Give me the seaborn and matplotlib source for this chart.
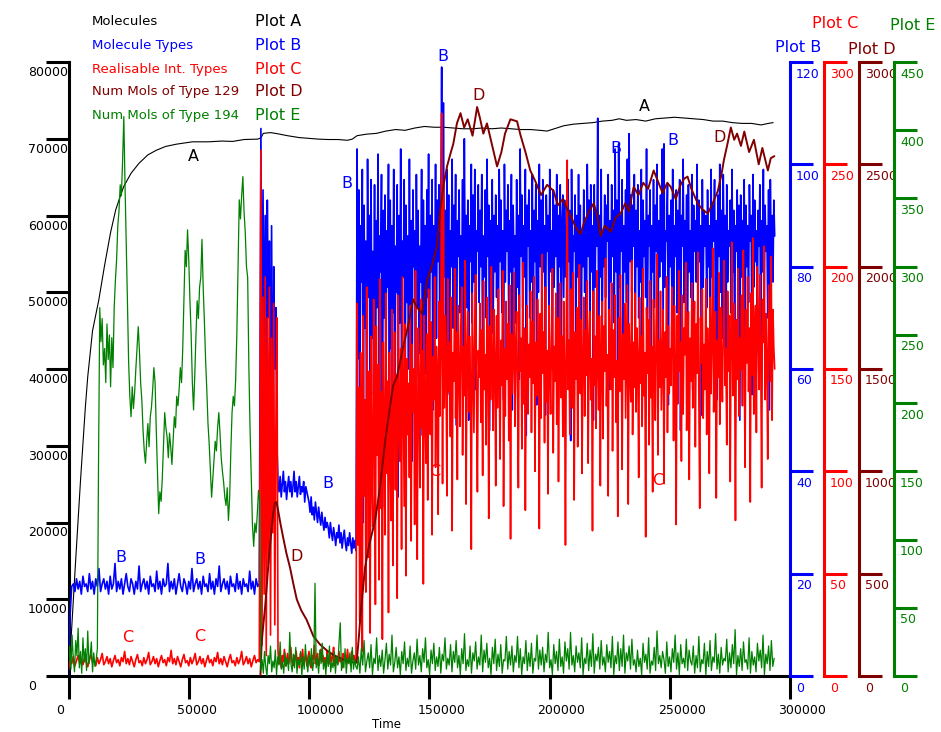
import numpy as np
import pandas as pd
import matplotlib
matplotlib.use('Agg')
import matplotlib.pyplot as plt
import seaborn as sns

# ---------------- data ----------------
# phase boundaries on the time axis: each value list below is sampled evenly inside its phase
seg_edges = [0, 80000, 120000, 294000]

# Plot A: Molecules (left axis)
a_time = [0, 1000, 3000, 5000, 7000, 8000, 10000, 12600, 15000, 17500,
          19600, 21500, 23000, 26000, 29300, 33000, 36500, 40400, 45000, 51500,
          58000, 64000, 68200, 73000, 78600, 80000, 81000, 84000, 87000, 91000,
          96000, 100000, 104000, 108000, 112000, 116000, 118000, 120000, 124000, 128000,
          132000, 136000, 140000, 144000, 148000, 152000, 156000, 160000, 164000, 168000,
          172000, 176000, 180000, 184000, 188000, 192000, 196000, 199000, 202000, 206000,
          210000, 214000, 218000, 222000, 226000, 229000, 232000, 236000, 240000, 244000,
          248000, 252000, 256000, 260000, 264000, 268000, 272000, 276000, 280000, 284000,
          288000, 291000, 293000]
a_vals = [1000, 4500, 15200, 25500, 35000, 39000, 45000, 49000, 53500, 57800,
          60700, 62500, 63800, 65500, 66800, 67900, 68500, 69000, 69300, 69600,
          69600, 69700, 69650, 69900, 69950, 70100, 70700, 70800, 70650, 70400,
          70150, 70050, 69950, 69900, 69900, 69800, 69950, 70400, 70600, 70700,
          71000, 71200, 71100, 71400, 71600, 71500, 71500, 71400, 71300, 71300,
          71400, 71300, 71400, 71300, 71200, 71200, 71100, 71000, 71300, 71700,
          71900, 72000, 72100, 72300, 72400, 72600, 72400, 72500, 72300, 72600,
          72700, 72800, 72700, 72600, 72500, 72300, 72300, 72100, 72000, 72000,
          71800, 72000, 72100]

# Plot B: Molecule Types
b_seg1 = [0, 12, 17.5, 18, 16.5, 19, 17, 18.5, 16, 19.5,
          17.5, 18, 16.5, 20, 17, 18.5, 16, 19, 17.5, 21,
          16.5, 18, 19, 17, 18.5, 16, 19.5, 17, 18, 22,
          16.5, 18.5, 17, 19, 16, 18, 20, 17.5, 16.5, 19,
          18, 16, 18.5, 17, 21.5, 16.5, 18, 19, 17, 18.5,
          16, 19.5, 17.5, 18, 16.5, 20.5, 17, 18.5, 16, 19,
          17.5, 18, 22, 16.5, 18.5, 17, 19, 16, 18, 20,
          17.5, 16.5, 19, 18, 16, 18.5, 17, 21, 16.5, 18,
          19, 17, 18.5, 16, 19.5, 17.5, 18, 16.5, 20, 17,
          18.5, 16, 19, 17.5, 21.5, 16.5, 18, 19, 17, 18.5,
          16, 19.5, 17.5, 18, 16.5, 20, 17, 18.5, 16, 19,
          17.5, 18, 16.5, 20.5, 17, 18.5, 16, 19, 17.5, 18]
b_seg2 = [107, 62, 95, 58, 90, 45, 93, 70, 85, 52, 88, 40, 80, 60, 72, 45,
          38, 36, 39, 35, 37.5, 40, 36, 38, 34.5, 37,
          39, 36, 38, 35, 37, 40, 36, 38, 35, 37,
          39, 35.5, 37, 36, 38, 34, 37, 36, 35,
          34, 32, 35, 31.5, 33, 30.5, 34, 32, 30, 33, 31, 29.5, 32, 30, 28.5, 31, 29, 30,
          29, 27, 30, 28, 26.5, 29, 27.5, 25.5, 28, 27, 29.5, 26, 28, 25,
          27, 28.5, 26, 24.5, 27, 25.5, 28, 26, 24, 27, 25, 26.5, 24.5]
b_seg3 = [103, 62, 95, 41, 88, 77, 99, 30, 92, 68, 85, 49, 101, 74, 90, 36, 97, 66, 83, 55,
          96, 44, 89, 72, 102, 58, 86, 79, 98, 33, 91, 70, 94, 52, 87, 76, 100, 39, 93, 64,
          88, 71, 99, 48, 84, 75, 96, 35, 90, 69, 103, 57, 85, 78, 97, 45, 92, 73, 86, 60,
          101, 67, 89, 42, 95, 80, 87, 54, 98, 72, 91, 63, 84, 77, 99, 47, 93, 70, 88, 59,
          95, 74, 102, 61, 90, 79, 97, 52, 88, 76, 100, 66, 93, 81, 96, 58, 91, 119, 70, 112,
          78, 91, 63, 99, 75, 94, 55, 87, 80, 101, 68, 92, 77, 98, 49, 89, 82, 95, 71, 86,
          76, 97, 59, 105, 79, 90, 72, 93, 50, 88, 81, 100, 69, 94, 77, 99, 56, 87, 83, 96,
          73, 91, 80, 98, 57, 86, 78, 95, 70, 101, 82, 92, 48, 89, 75, 97, 67, 90, 79, 94,
          74, 88, 62, 99, 81, 93, 71, 87, 54, 100, 77, 91, 83, 96, 66, 89, 79, 98, 52, 92,
          80, 86, 69, 97, 76, 90, 58, 103, 82, 94, 72, 88, 78, 99, 47, 92, 84, 95, 70, 87,
          77, 98, 64, 91, 81, 96, 53, 89, 75, 100, 80, 93, 68, 97, 79, 88, 51, 94, 83, 90,
          72, 99, 79, 87, 60, 95, 76, 92, 82, 98, 67, 90, 80, 96, 55, 89, 94, 74, 93, 78,
          88, 70, 97, 81, 91, 46, 99, 77, 86, 83, 94, 65, 90, 78, 98, 73, 92, 57, 87, 80,
          95, 75, 89, 63, 100, 82, 93, 71, 96, 79, 88, 50, 96, 76, 91, 84, 109, 68, 90, 78,
          99, 61, 87, 80, 94, 74, 92, 85, 98, 56, 89, 77, 96, 82, 91, 69, 103, 79, 93, 52,
          104, 76, 90, 83, 97, 66, 88, 79, 95, 73, 101, 58, 106, 81, 94, 75, 92, 84, 98, 63,
          91, 80, 96, 70, 87, 77, 99, 49, 93, 82, 89, 74, 103, 67, 90, 84, 95, 55, 88, 79,
          97, 72, 92, 83, 100, 59, 89, 78, 94, 81, 103, 68, 104, 76, 87, 85, 96, 53, 90, 80,
          93, 75, 99, 64, 88, 82, 95, 71, 91, 78, 97, 48, 90, 84, 101, 73, 89, 80, 94, 62,
          96, 79, 87, 74, 98, 56, 92, 83, 89, 77, 100, 69, 93, 81, 88, 51, 97, 76, 91, 84,
          90, 72, 95, 80, 88, 61, 99, 78, 92, 85, 97, 70, 89, 54, 94, 82, 100, 75, 91, 66,
          98, 81, 90, 57, 96, 77, 87, 84, 93, 71, 99, 79, 91, 63, 88, 83, 95, 74, 92, 50,
          94, 78, 89, 82, 97, 65, 92, 80, 88, 73, 96, 85, 90, 55, 98, 76, 93, 81, 87, 68,
          91, 84, 96, 60, 89, 79, 99, 74, 92, 83, 88, 70, 95, 52, 97, 80, 90, 77, 93, 86]

# Plot C: Realisable Int. Types
c_seg1 = [3, 8, 6, 9.5, 5, 7.5, 10, 6, 8.5, 5.5,
          9, 7, 4.5, 8, 10.5, 6.5, 7.5, 5, 9, 6,
          8, 11, 5.5, 7, 9.5, 6, 8.5, 4.5, 7.5, 10,
          6.5, 8, 5, 9, 7, 12, 6, 8.5, 5.5, 9.5,
          7, 4.5, 8, 10.5, 6.5, 7.5, 5, 9, 6, 8,
          11.5, 5.5, 7, 9.5, 6, 8.5, 4.5, 7.5, 10, 6.5,
          8, 5, 9, 7, 12.5, 6, 8.5, 5.5, 9.5, 7,
          4.5, 8, 10.5, 6.5, 7.5, 5, 9, 6, 8, 11,
          5.5, 7, 9.5, 6, 8.5, 4.5, 7.5, 10, 6.5, 8,
          5, 9, 7, 11.5, 6, 8.5, 5.5, 9.5, 7, 4.5,
          8, 10.5, 6.5, 7.5, 5, 9, 6, 8, 12, 5.5,
          7, 9.5, 6, 8.5, 4.5, 7.5, 10, 6.5, 8, 7]
c_seg2 = [257, 15, 185, 40, 195, 10, 175, 55, 190, 20, 165, 70, 182, 25, 120, 175,
          12, 6, 9, 4, 10, 7, 13, 5, 8, 11, 6, 9, 14, 7, 5, 10, 8, 12, 6, 9,
          4, 11, 7, 13, 6, 8, 10, 5, 9, 12, 7, 4, 10, 8, 15, 6, 9, 11, 5, 8,
          13, 7, 10, 6, 9, 4, 12, 8, 6, 11, 7, 9, 14, 5, 10, 8, 6, 12, 7, 9,
          4, 11, 8, 10, 6, 13, 7, 9, 5, 12, 8, 10, 6, 9]
c_seg3 = [182, 64, 141, 27, 158, 103, 12, 176, 88, 135, 41, 190, 117, 58, 149, 21, 166, 96, 73, 184,
          126, 35, 171, 108, 152, 47, 194, 82, 139, 18, 163, 121, 69, 187, 99, 144, 31, 158, 112, 76,
          179, 54, 133, 168, 91, 147, 38, 186, 124, 105, 160, 62, 195, 137, 83, 172, 49, 155, 118, 143,
          97, 181, 66, 162, 129, 150, 74, 198, 114, 57, 170, 138, 92, 184, 121, 159, 45, 176, 131, 104,
          167, 86, 189, 142, 118, 173, 69, 156, 135, 195, 102, 161, 148, 79, 183, 127, 166, 275, 94, 240,
          131, 176, 152, 88, 194, 139, 163, 117, 185, 71, 158, 144, 199, 126, 168, 96, 181, 149, 122, 172,
          190, 108, 161, 137, 203, 84, 155, 178, 129, 166, 143, 62, 187, 151, 119, 174, 196, 133, 90, 159,
          146, 182, 124, 169, 98, 193, 140, 157, 113, 185, 162, 77, 171, 135, 200, 148, 120, 179, 154, 93,
          176, 131, 189, 150, 106, 164, 142, 198, 83, 160, 127, 183, 145, 172, 115, 191, 67, 167, 138, 156,
          197, 122, 158, 178, 139, 92, 186, 149, 165, 111, 202, 133, 170, 81, 154, 181, 128, 162, 146, 188,
          119, 173, 143, 195, 100, 163, 137, 184, 155, 72, 177, 126, 206, 148, 168, 114, 190, 134, 159, 89,
          181, 152, 128, 170, 199, 109, 161, 144, 187, 123, 175, 95, 158, 192, 136, 166, 117, 183, 150, 64,
          172, 252, 140, 164, 118, 189, 153, 131, 197, 86, 168, 145, 180, 112, 160, 201, 138, 174, 99, 156,
          185, 127, 169, 147, 193, 104, 162, 178, 135, 155, 71, 188, 142, 166, 121, 198, 151, 130, 176, 93,
          159, 183, 116, 171, 149, 204, 132, 157, 88, 179, 163, 140, 192, 110, 169, 146, 186, 124, 154, 78,
          175, 139, 196, 158, 101, 167, 145, 182, 126, 160, 191, 84, 172, 150, 134, 203, 118, 163, 141, 187,
          129, 170, 154, 97, 185, 143, 166, 122, 199, 137, 158, 68, 180, 148, 174, 113, 193, 136, 161, 90,
          184, 150, 125, 172, 206, 108, 164, 141, 188, 130, 155, 179, 94, 168, 146, 195, 119, 171, 138, 160,
          142, 190, 167, 115, 181, 152, 74, 176, 133, 198, 149, 163, 105, 186, 128, 170, 157, 202, 120, 147,
          178, 96, 165, 144, 192, 131, 159, 183, 112, 172, 148, 207, 136, 82, 175, 153, 189, 126, 162, 140,
          194, 118, 170, 151, 99, 185, 138, 166, 209, 129, 157, 178, 87, 164, 146, 197, 123, 180, 155, 134,
          171, 203, 142, 160, 113, 188, 149, 176, 95, 168, 212, 137, 182, 158, 76, 174, 145, 199, 127, 165,
          150, 186, 132, 208, 161, 102, 179, 153, 195, 139, 170, 85, 187, 147, 214, 128, 166, 181, 119, 200,
          173, 140, 196, 157, 92, 184, 163, 210, 135, 177, 152, 106, 191, 168, 144, 205, 125, 179, 160, 150]

# Plot D: Num Mols of Type 129
d_time = [79800, 80300, 81000, 81700, 82500, 83200, 83750, 84500, 85200, 85800,
          86500, 87300, 88200, 89200, 90600, 92100, 93500, 94900, 96800, 99000,
          101800, 104500, 107400, 110500, 114200, 117500, 119800, 120800, 121500, 123300,
          125000, 127500, 129500, 131700, 133500, 135000, 136500, 138000, 139200, 141000,
          143300, 145000, 147000, 149000, 151000, 153200, 154600, 156000, 157400, 159000,
          160000, 161500, 163000, 164500, 166000, 168000, 169900, 171000, 172500, 174000,
          176000, 178200, 180000, 181500, 183750, 186500, 188000, 190000, 192000, 194000,
          196500, 199000, 201700, 203500, 205500, 207400, 209500, 211000, 212900, 214500,
          216500, 218400, 220000, 221250, 223000, 225500, 227500, 229600, 231500, 233000,
          235000, 237000, 239000, 241000, 243300, 245000, 247000, 249000, 250400, 252500,
          254500, 256000, 257400, 259000, 261600, 263500, 265800, 267500, 270000, 271500,
          272500, 274000, 275400, 276800, 278000, 279600, 281000, 283000, 285000, 287000,
          288500, 290800, 292000, 293500]
d_vals = [0, 160, 250, 330, 450, 560, 630, 730, 800, 845,
          850, 800, 740, 680, 600, 530, 450, 375, 320, 275,
          195, 155, 125, 100, 80, 68, 65, 200, 310, 530,
          640, 760, 920, 1150, 1300, 1420, 1460, 1540, 1610, 1700,
          1840, 1800, 1770, 1930, 2000, 2100, 2280, 2400, 2490, 2560,
          2600, 2700, 2750, 2680, 2720, 2640, 2780, 2730, 2650, 2700,
          2600, 2490, 2560, 2650, 2720, 2710, 2640, 2560, 2470, 2420,
          2350, 2400, 2370, 2300, 2330, 2280, 2230, 2190, 2160, 2220,
          2270, 2310, 2240, 2150, 2200, 2170, 2240, 2260, 2310, 2270,
          2390, 2350, 2410, 2380, 2470, 2420, 2360, 2410, 2390, 2330,
          2400, 2430, 2440, 2380, 2310, 2280, 2260, 2300, 2370, 2450,
          2520, 2600, 2680, 2620, 2650, 2590, 2660, 2560, 2620, 2500,
          2580, 2470, 2530, 2540]

# Plot E: Num Mols of Type 194
e_seg1 = [8, 22, 5, 30, 12, 3, 26, 15, 35, 6,
          18, 2, 28, 10, 20, 4, 33, 9, 14, 25,
          3, 17, 7, 12, 20, 160, 270, 245, 262, 228,
          240, 215, 258, 232, 250, 212, 248, 226, 270, 290,
          305, 330, 341, 360, 352, 378, 410, 360, 318, 275,
          230, 205, 190, 212, 196, 208, 225, 240, 256, 238,
          215, 202, 180, 165, 156, 172, 185, 168, 190, 197,
          210, 226, 215, 180, 150, 119, 135, 128, 145, 170,
          193, 182, 175, 160, 178, 168, 155, 172, 190, 182,
          205, 198, 210, 226, 215, 240, 275, 312, 300, 327,
          305, 275, 250, 215, 195, 220, 250, 275, 262, 285,
          292, 320, 285, 260, 232, 210, 185, 170, 150, 131,
          145, 160, 172, 165, 182, 193, 178, 160, 150, 142,
          131, 125, 138, 114, 130, 165, 193, 205, 198, 217,
          251, 300, 349, 335, 352, 366, 340, 325, 300, 292,
          226, 180, 144, 110, 95, 112, 105, 119, 136, 128]
e_seg2 = [4, 12, 2, 18, 7, 0, 15, 9, 22, 3,
          11, 6, 19, 1, 14, 8, 25, 5, 10, 2,
          17, 7, 13, 4, 32, 9, 3, 16, 6, 21,
          2, 12, 8, 18, 0, 14, 5, 23, 10, 3,
          15, 7, 20, 4, 11, 68, 6, 13, 2, 19,
          9, 24, 5, 12, 1, 16, 7, 22, 3, 10,
          6, 18, 2, 14, 8, 25, 39, 4, 11, 6,
          20, 2, 13, 9, 17, 3, 21, 5, 12, 7]
e_seg3 = [5, 14, 2, 20, 8, 26, 3, 11, 17, 6, 23, 1, 13, 9, 28, 4, 15, 7, 19, 2,
          12, 24, 5, 16, 8, 30, 3, 10, 21, 6, 14, 1, 18, 9, 25, 4, 13, 7, 22, 2,
          11, 17, 5, 27, 8, 15, 3, 20, 10, 28, 6, 12, 1, 19, 9, 24, 4, 14, 7, 21,
          2, 16, 11, 28, 5, 13, 8, 23, 3, 18, 10, 26, 6, 15, 1, 20, 9, 31, 4, 12,
          7, 22, 2, 17, 11, 25, 5, 14, 8, 30, 3, 19, 10, 24, 6, 13, 1, 21, 9, 27,
          4, 16, 7, 23, 2, 12, 11, 29, 5, 18, 8, 22, 3, 15, 10, 29, 6, 20, 1, 14,
          9, 26, 4, 17, 7, 24, 2, 13, 11, 30, 5, 19, 8, 21, 3, 16, 10, 32, 6, 12,
          1, 23, 9, 18, 4, 27, 7, 14, 2, 25, 11, 20, 5, 32, 8, 15, 3, 22, 10, 17,
          6, 28, 1, 13, 9, 24, 4, 19, 7, 31, 2, 16, 11, 21, 5, 26, 8, 14, 3, 23,
          10, 18, 6, 29, 1, 15, 9, 25, 4, 20, 7, 30, 2, 17, 11, 22, 5, 27, 8, 12,
          3, 19, 7, 13, 1, 24, 10, 16, 5, 28, 2, 11, 8, 21, 4, 33, 9, 15, 6, 18,
          12, 2, 25, 7, 14, 3, 20, 10, 30, 5, 17, 1, 23, 9, 13, 6, 27, 4, 19, 11,
          8, 22, 2, 15, 6, 29, 3, 12, 9, 24, 1, 18, 7, 26, 4, 14, 10, 31, 5, 16,
          2, 21, 8, 13, 11, 27, 3, 17, 6, 23, 9, 34, 1, 15, 7, 20, 4, 25, 10, 12,
          5, 28, 2, 18, 8, 14, 3, 24, 11, 19, 6, 30, 1, 16, 9, 22, 4, 26, 7, 13]

# axes ranges and ticks
x_ticks = [0, 50000, 100000, 150000, 200000, 250000, 300000]
a_ticks = [0, 10000, 20000, 30000, 40000, 50000, 60000, 70000, 80000]
b_ticks = [0, 20, 40, 60, 80, 100, 120]
c_ticks = [0, 50, 100, 150, 200, 250, 300]
d_ticks = [0, 500, 1000, 1500, 2000, 2500, 3000]
e_ticks = [0, 50, 100, 150, 200, 250, 300, 350, 400, 450]

legend_names = ['Molecules', 'Molecule Types', 'Realisable Int. Types',
                'Num Mols of Type 129', 'Num Mols of Type 194']
plot_names = ['Plot A', 'Plot B', 'Plot C', 'Plot D', 'Plot E']
colors = ['black', '#0000ff', '#ff0000', '#800000', '#008000']

# curve letters: (time, value on the curve's own axis)
a_marks = [(52100, 67700), (239600, 74200)]
b_marks = [(21700, 23.1), (54600, 22.7), (115700, 96.3), (155800, 121), (227500, 103),
           (251250, 104.7), (107900, 37.7)]
c_marks = [(24600, 18.6), (54600, 19.5), (152100, 99.7), (245000, 95.3)]
d_marks = [(170400, 2834), (94900, 583), (270800, 2629)]


def seg_frame(segs):
    parts = []
    for i, vals in enumerate(segs):
        t = np.linspace(seg_edges[i], seg_edges[i + 1], len(vals), endpoint=False)
        parts.append(pd.DataFrame({'time': t, 'value': vals}))
    return pd.concat(parts, ignore_index=True)


df_a = pd.DataFrame({'time': a_time, 'value': a_vals})
df_b = seg_frame([b_seg1, b_seg2, b_seg3])
df_c = seg_frame([c_seg1, c_seg2, c_seg3])
df_d = pd.DataFrame({'time': d_time, 'value': d_vals})
df_e = seg_frame([e_seg1, e_seg2, e_seg3])

# ---------------- figure ----------------
sns.set_style('white')
plt.rcParams['font.family'] = ['DejaVu Sans']

W, H = 941, 732
L, R, B, T = 68.5, 790, 676, 62
fig = plt.figure(figsize=(W / 100, H / 100), dpi=100)
ax = fig.add_axes([L / W, 1 - B / H, (R - L) / W, (B - T) / H])

TL, TW = 16.5, 2.2   # tick length / width in points

sns.lineplot(data=df_a, x='time', y='value', ax=ax, color=colors[0], linewidth=0.8, estimator=None)
ax.set_xlim(0, 300000)
ax.set_ylim(0, 80000)
ax.set_xticks(x_ticks)
ax.set_yticks(a_ticks)
ax.set_xlabel('')
ax.set_ylabel('')
ax.tick_params(axis='both', direction='out', length=TL, width=TW, color='black',
               labelleft=False, labelbottom=False, left=True, bottom=True)
for s in ['top', 'right']:
    ax.spines[s].set_visible(False)
for s in ['left', 'bottom']:
    ax.spines[s].set_linewidth(TW)
    ax.spines[s].set_color('black')

for v in a_ticks:
    ax.annotate(f'{v}', xy=(0, v), xycoords=ax.get_yaxis_transform(),
                xytext=(28 - L, -10.5), textcoords='offset pixels',
                ha='left', va='center', fontsize=9, color='black', annotation_clip=False)
for v in x_ticks:
    ax.annotate(f'{v}', xy=(v, 0), xycoords=ax.get_xaxis_transform(),
                xytext=(-12, -34), textcoords='offset pixels',
                ha='left', va='center', fontsize=9, color='black', annotation_clip=False)
for t, v in a_marks:
    ax.text(t, v, 'A', color=colors[0], fontsize=11.5, ha='center', va='center')


def twin(df, spine_x, top, ticks, color, lw, marks, letter):
    tw = ax.twinx()
    sns.lineplot(data=df, x='time', y='value', ax=tw, color=color, linewidth=lw, estimator=None)
    tw.set_ylim(0, top)
    tw.set_yticks(ticks)
    tw.set_ylabel('')
    for s in ['left', 'top', 'bottom']:
        tw.spines[s].set_visible(False)
    pos = (spine_x - L) / (R - L)
    tw.spines['right'].set_position(('axes', pos))
    tw.spines['right'].set_color(color)
    tw.spines['right'].set_linewidth(TW)
    tw.tick_params(axis='y', direction='out', length=TL, width=TW, color=color,
                   labelright=False, right=True)
    for v in ticks:
        tw.annotate(f'{v}', xy=(pos, v), xycoords=tw.get_yaxis_transform(),
                    xytext=(6, -12), textcoords='offset pixels',
                    ha='left', va='center', fontsize=9, color=color, annotation_clip=False)
    for t, v in marks:
        tw.text(t, v, letter, color=color, fontsize=11.5, ha='center', va='center')
    return tw


twin(df_b, 790, 120, b_ticks, colors[1], 1.2, b_marks, 'B')
twin(df_c, 824, 300, c_ticks, colors[2], 1.2, c_marks, 'C')
twin(df_d, 859, 3000, d_ticks, colors[3], 1.4, d_marks, 'D')
twin(df_e, 894, 450, e_ticks, colors[4], 0.9, [], 'E')
ax.set_xlim(0, 300000)

# legend block, top left
rows_y = [21.7, 45, 69, 92, 115]
for name, pname, col, y in zip(legend_names, plot_names, colors, rows_y):
    fig.text(91.7 / W, 1 - y / H, name, color=col, fontsize=9.5, ha='left', va='center')
    fig.text(255 / W, 1 - y / H, pname, color=col, fontsize=11.5, ha='left', va='center')

# axis titles over the right-hand scales
for pname, col, (x, y) in zip(plot_names[1:], colors[1:],
                              [(798, 48), (835, 24), (871.5, 49), (912.7, 25)]):
    fig.text(x / W, 1 - y / H, pname, color=col, fontsize=11.5, ha='center', va='center')

fig.text(386 / W, 1 - 724 / H, 'Time', color='black', fontsize=8.5, ha='center', va='center')

fig.savefig('out.png', dpi=100)
